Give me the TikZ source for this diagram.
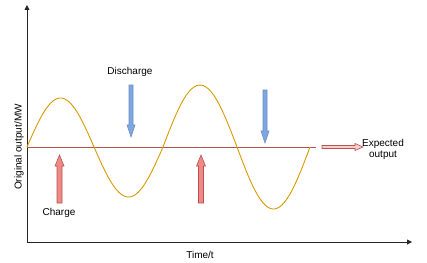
\documentclass[tikz,border=0pt]{standalone}
\usepackage{fontspec}
\setmainfont{Liberation Sans}
\usetikzlibrary{arrows.meta}
\definecolor{curveorange}{HTML}{D79B00}
\definecolor{linered}{HTML}{B85450}
\definecolor{redfill}{HTML}{EA6B66}
\definecolor{lightred}{HTML}{F8CECC}
\definecolor{bluefill}{HTML}{7EA6E0}
\definecolor{bluestroke}{HTML}{6C8EBF}
\tikzset{
  axisline/.style={line width=0.9pt, black!85, -{Triangle[length=5pt,width=5pt]}},
  lbl/.style={font=\fontsize{10}{11}\selectfont, inner sep=0pt, align=center},
  wave/.style={curveorange, line width=0.9pt},
  expline/.style={linered, line width=0.9pt},
  chargearrow/.style={draw=linered, fill=redfill!80, line width=0.6pt},
  dischargearrow/.style={draw=bluestroke, fill=bluefill, line width=0.6pt},
  exparrow/.style={draw=linered, fill=lightred, line width=0.6pt}
}
\newcommand\downarrowshape[4]{% style, x, top, bottom
  \path[#1] ({#2-2},#3) -- ({#2+2},#3) -- ({#2+2},{#4-12}) -- ({#2+4},{#4-12}) -- (#2,#4) -- ({#2-4},{#4-12}) -- ({#2-2},{#4-12}) -- cycle;}
\newcommand\uparrowshape[4]{% style, x, bottom, top
  \path[#1] ({#2-2.5},#3) -- ({#2+2.5},#3) -- ({#2+2.5},{#4+11}) -- ({#2+4.5},{#4+11}) -- (#2,#4) -- ({#2-4.5},{#4+11}) -- ({#2-2.5},{#4+11}) -- cycle;}
\begin{document}
\begin{tikzpicture}[x=1pt,y=-1pt]
\useasboundingbox (0,0) rectangle (427,262);
% axes
\coordinate (O) at (27,242);
\coordinate (ytop) at (27,5);
\coordinate (xend) at (412,242);
\draw[axisline] (O) -- (ytop);
\draw[axisline] (O) -- (xend);
% expected output line
\coordinate (eL) at (27,147);
\coordinate (eR) at (316,147);
\draw[expline] (eL) -- (eR);
% wave
\draw[wave] plot[domain=0:180,samples=40,smooth] ({27+67*\x/180},{147-49*sin(\x)})
  -- plot[domain=0:180,samples=40,smooth] ({94+69*\x/180},{147+50*sin(\x)})
  -- plot[domain=0:180,samples=40,smooth] ({163+74*\x/180},{147-62*sin(\x)})
  -- plot[domain=0:180,samples=40,smooth] ({237+73*\x/180},{147+62*sin(\x)});
% arrows
\downarrowshape{dischargearrow}{131}{85}{137}
\downarrowshape{dischargearrow}{265}{90}{143}
\uparrowshape{chargearrow}{59.5}{203}{155}
\uparrowshape{chargearrow}{201}{203}{155}
\path[exparrow] (322,145.5) -- (355,145.5) -- (355,143.5) -- (363,147) -- (355,150.5) -- (355,148.5) -- (322,148.5) -- cycle;
% labels
\node[lbl] (dis) at (130,72) {Discharge};
\node[lbl] (chg) at (59,213) {Charge};
\node[lbl] (time) at (200,255) {Time/t};
\node[lbl, rotate=90] (ylab) at (19,147) {Original output/MW};
\node[lbl] (exp) at (383,149) {Expected\\output};
\end{tikzpicture}
\end{document}
